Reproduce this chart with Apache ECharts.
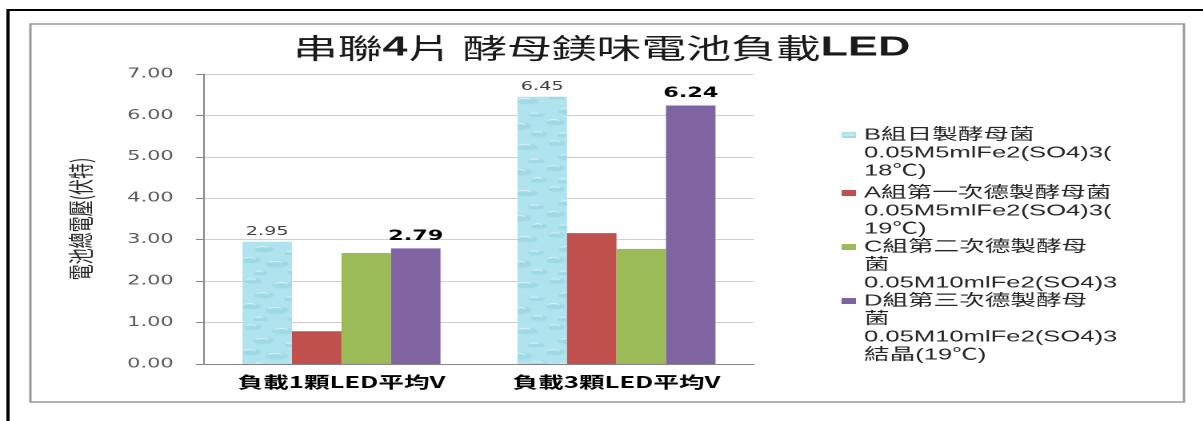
<!DOCTYPE html>
<html>
<head>
<meta charset="utf-8">
<script src="https://cdn.jsdelivr.net/npm/echarts@6/dist/echarts.min.js"></script>
<style>
  html, body { margin: 0; padding: 0; background: #fff; overflow: hidden; }
  /* the chart is laid out narrow and widened horizontally, as in the printed sheet */
  #wrap { width: 1203px; height: 421px; overflow: hidden; }
  #chart { width: 752px; height: 421px; transform: scaleX(1.6); transform-origin: 0 0; }
</style>
</head>
<body>
<div id="wrap"><div id="chart"></div></div>
<script>
// ---- data ----
const categories = ['負載1顆LED平均V', '負載3顆LED平均V'];
const seriesNames = [
  'B組日製酵母菌\n0.05M5mlFe2(SO4)3(\n18℃)',
  'A組第一次德製酵母菌\n0.05M5mlFe2(SO4)3(\n19℃)',
  'C組第二次德製酵母\n菌\n0.05M10mlFe2(SO4)3',
  'D組第三次德製酵母\n菌\n0.05M10mlFe2(SO4)3\n結晶(19℃)'
];
const valuesB = [2.95, 6.45];
const valuesA = [0.79, 3.16];
const valuesC = [2.68, 2.78];
const valuesD = [2.79, 6.24];
const yTicks = [0, 1, 2, 3, 4, 5, 6, 7];
const yAxisTitle = '電池總電壓(伏特)';

// ---- styles ----
const LATIN = "'Liberation Sans','Noto Sans CJK TC',sans-serif";
const DEJAVU = "'DejaVu Sans','Noto Sans CJK TC',sans-serif";
const CJK = "'Noto Sans CJK TC',sans-serif";
const colors = ['#a9e2ec', '#c0504d', '#9bbb59', '#8064a2'];

// light cyan water-drop texture for the first series
function waterPattern() {
  const c = document.createElement('canvas');
  c.width = 38; c.height = 46;
  const g = c.getContext('2d');
  g.fillStyle = '#afe3ed';
  g.fillRect(0, 0, 38, 46);
  const drops = [[6,5,5,2.5],[25,9,7,3],[13,19,6,3],[31,23,5,2],[5,30,6,3],[21,34,7,3.5],[33,42,5,2.5],[11,43,4,2]];
  drops.forEach(function (d) {
    g.beginPath();
    g.ellipse(d[0], d[1], d[2], d[3], 0, 0, Math.PI * 2);
    g.fillStyle = 'rgba(125,198,214,0.35)';
    g.fill();
    g.beginPath();
    g.ellipse(d[0] - 1, d[1] - 1, d[2] * 0.6, d[3] * 0.5, 0, Math.PI, Math.PI * 2);
    g.strokeStyle = 'rgba(255,255,255,0.75)';
    g.lineWidth = 1;
    g.stroke();
  });
  return c;
}
const texture = { image: waterPattern(), repeat: 'repeat' };

const LINE_H = 18;
const legendIconY = [135, 193, 247, 301];

// each entry is its own legend so the marker sits beside the first line of the name
const legends = seriesNames.map(function (name, i) {
  const n = name.split('\n').length;
  return {
    data: [name],
    orient: 'vertical',
    left: 526,
    top: legendIconY[i] - (2 * n - 1) * LINE_H / 2,
    padding: 0,
    icon: 'rect',
    itemWidth: 9,
    itemHeight: 6,
    itemGap: 0,
    selectedMode: false,
    formatter: function (nm) {
      // blank leading lines push the name down so its first line is level with the marker
      return new Array(n).join(' \n') + nm;
    },
    textStyle: {
      fontFamily: LATIN,
      fontSize: 16,
      color: '#262626',
      lineHeight: LINE_H
    }
  };
});

const valueSets = [valuesB, valuesA, valuesC, valuesD];
const series = valueSets.map(function (vals, i) {
  const s = {
    name: seriesNames[i],
    type: 'bar',
    data: vals,
    barGap: '0%',
    barCategoryGap: '28%',
    itemStyle: { color: i === 0 ? texture : colors[i] },
    emphasis: { disabled: true }
  };
  if (i === 0) {
    s.label = {
      show: true, position: 'top', distance: 4,
      fontFamily: DEJAVU, fontSize: 12, color: '#404040',
      formatter: function (p) { return p.value.toFixed(2); }
    };
  } else if (i === 3) {
    s.label = {
      show: true, position: 'top', distance: 5,
      fontFamily: DEJAVU, fontSize: 14, fontWeight: 'bold', color: '#000',
      formatter: function (p) { return p.value.toFixed(2); }
    };
  }
  return s;
});

const chart = echarts.init(document.getElementById('chart'), null, { devicePixelRatio: 2 });
chart.setOption({
  animation: false,
  backgroundColor: '#fff',
  title: {
    text: '{r|串聯}{b|4}{r|片 酵母鎂味電池負載}{b|LED}',
    left: 'center',
    top: 29,
    textStyle: {
      fontWeight: 'normal',
      rich: {
        r: { fontFamily: CJK, fontSize: 28, fontWeight: 'normal', color: '#1a1a1a' },
        b: { fontFamily: LATIN, fontSize: 28, fontWeight: 'bold', color: '#1a1a1a' }
      }
    }
  },
  graphic: [
    { type: 'rect', shape: { x: 5, y: 10, width: 900, height: 500 }, style: { fill: 'none', stroke: '#000', lineWidth: 2 }, silent: true },
    { type: 'rect', shape: { x: 19, y: 24, width: 721, height: 378 }, style: { fill: 'none', stroke: '#9a9a9a', lineWidth: 1.5 }, silent: true }
  ],
  legend: legends,
  grid: { left: 127.5, right: 280.75, top: 74, bottom: 57, containLabel: false },
  xAxis: {
    type: 'category',
    data: categories,
    axisLine: { lineStyle: { color: '#868686', width: 1 } },
    axisTick: { show: false },
    axisLabel: {
      margin: 10,
      fontFamily: CJK,
      fontSize: 16,
      fontWeight: 'bold',
      color: '#000'
    }
  },
  yAxis: {
    type: 'value',
    min: yTicks[0],
    max: yTicks[yTicks.length - 1],
    interval: 1,
    name: yAxisTitle,
    nameLocation: 'middle',
    nameGap: 69,
    nameTextStyle: { fontFamily: CJK, fontSize: 16, color: '#262626' },
    axisLine: { show: true, lineStyle: { color: '#868686', width: 1 } },
    axisTick: { show: true, length: 5, lineStyle: { color: '#868686' } },
    splitLine: { lineStyle: { color: '#cfcfcf', width: 1 } },
    axisLabel: {
      margin: 19,
      fontFamily: DEJAVU,
      fontSize: 13,
      color: '#595959',
      formatter: function (v) { return v.toFixed(2); }
    }
  },
  series: series
});
</script>
</body>
</html>
